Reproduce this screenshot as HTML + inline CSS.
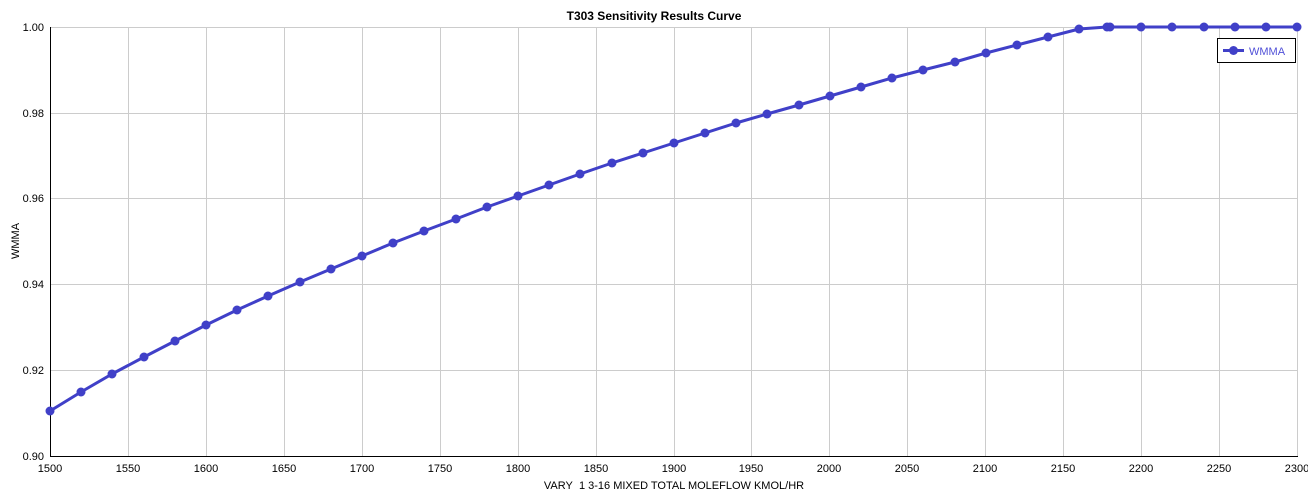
<!DOCTYPE html>
<html><head><meta charset="utf-8"><style>
html,body{margin:0;padding:0;background:#fff;}
svg{display:block;font-family:"Liberation Sans","DejaVu Sans",sans-serif;}
</style></head><body>
<svg width="1308" height="496" viewBox="0 0 1308 496" xmlns="http://www.w3.org/2000/svg">
<rect width="1308" height="496" fill="#fff"/>
<g stroke="#cccccc" stroke-width="1">
<line x1="128.5" y1="27" x2="128.5" y2="456"/><line x1="206.5" y1="27" x2="206.5" y2="456"/><line x1="284.5" y1="27" x2="284.5" y2="456"/><line x1="362.5" y1="27" x2="362.5" y2="456"/><line x1="440.5" y1="27" x2="440.5" y2="456"/><line x1="518.5" y1="27" x2="518.5" y2="456"/><line x1="596.5" y1="27" x2="596.5" y2="456"/><line x1="674.5" y1="27" x2="674.5" y2="456"/><line x1="751.5" y1="27" x2="751.5" y2="456"/><line x1="829.5" y1="27" x2="829.5" y2="456"/><line x1="907.5" y1="27" x2="907.5" y2="456"/><line x1="985.5" y1="27" x2="985.5" y2="456"/><line x1="1063.5" y1="27" x2="1063.5" y2="456"/><line x1="1141.5" y1="27" x2="1141.5" y2="456"/><line x1="1219.5" y1="27" x2="1219.5" y2="456"/><line x1="1297.5" y1="27" x2="1297.5" y2="456"/>
<line x1="50" y1="27.5" x2="1298" y2="27.5"/><line x1="50" y1="113.5" x2="1298" y2="113.5"/><line x1="50" y1="198.5" x2="1298" y2="198.5"/><line x1="50" y1="284.5" x2="1298" y2="284.5"/><line x1="50" y1="370.5" x2="1298" y2="370.5"/>
</g>
<g stroke="#000" stroke-width="1"><line x1="50.5" y1="27" x2="50.5" y2="456.5"/><line x1="50" y1="456.5" x2="1298" y2="456.5"/></g>
<text x="654" y="20" text-anchor="middle" font-size="12" font-weight="bold">T303 Sensitivity Results Curve</text>
<g font-size="11" text-anchor="end"><text x="44" y="31">1.00</text><text x="44" y="117">0.98</text><text x="44" y="202">0.96</text><text x="44" y="288">0.94</text><text x="44" y="374">0.92</text><text x="44" y="460">0.90</text></g>
<g font-size="11" text-anchor="middle"><text x="50" y="472">1500</text><text x="128" y="472">1550</text><text x="206" y="472">1600</text><text x="284" y="472">1650</text><text x="362" y="472">1700</text><text x="440" y="472">1750</text><text x="518" y="472">1800</text><text x="596" y="472">1850</text><text x="674" y="472">1900</text><text x="751" y="472">1950</text><text x="829" y="472">2000</text><text x="907" y="472">2050</text><text x="985" y="472">2100</text><text x="1063" y="472">2150</text><text x="1141" y="472">2200</text><text x="1219" y="472">2250</text><text x="1297" y="472">2300</text></g>
<text x="674" y="489" text-anchor="middle" font-size="11">VARY&#160; 1 3-16 MIXED TOTAL MOLEFLOW KMOL/HR</text>
<text transform="translate(19,241) rotate(-90)" text-anchor="middle" font-size="11">WMMA</text>
<polyline fill="none" stroke="#4040c8" stroke-width="3" stroke-linejoin="round" points="50,411 81,392 112,374 144,357 175,341 206,325 237,310 268,296 300,282 331,269 362,256 393,243 424,231 456,219 487,207 518,196 549,185 580,174 612,163 643,153 674,143 705,133 736,123 767,114 799,105 830,96 861,87 892,78 923,70 955,62 986,53 1017,45 1048,37 1079,29 1107,27 1110,27 1141,27 1172,27 1204,27 1235,27 1266,27 1297,27"/>
<g fill="#4040c8">
<circle cx="50" cy="411" r="4.5"/><circle cx="81" cy="392" r="4.5"/><circle cx="112" cy="374" r="4.5"/><circle cx="144" cy="357" r="4.5"/><circle cx="175" cy="341" r="4.5"/><circle cx="206" cy="325" r="4.5"/><circle cx="237" cy="310" r="4.5"/><circle cx="268" cy="296" r="4.5"/><circle cx="300" cy="282" r="4.5"/><circle cx="331" cy="269" r="4.5"/><circle cx="362" cy="256" r="4.5"/><circle cx="393" cy="243" r="4.5"/><circle cx="424" cy="231" r="4.5"/><circle cx="456" cy="219" r="4.5"/><circle cx="487" cy="207" r="4.5"/><circle cx="518" cy="196" r="4.5"/><circle cx="549" cy="185" r="4.5"/><circle cx="580" cy="174" r="4.5"/><circle cx="612" cy="163" r="4.5"/><circle cx="643" cy="153" r="4.5"/><circle cx="674" cy="143" r="4.5"/><circle cx="705" cy="133" r="4.5"/><circle cx="736" cy="123" r="4.5"/><circle cx="767" cy="114" r="4.5"/><circle cx="799" cy="105" r="4.5"/><circle cx="830" cy="96" r="4.5"/><circle cx="861" cy="87" r="4.5"/><circle cx="892" cy="78" r="4.5"/><circle cx="923" cy="70" r="4.5"/><circle cx="955" cy="62" r="4.5"/><circle cx="986" cy="53" r="4.5"/><circle cx="1017" cy="45" r="4.5"/><circle cx="1048" cy="37" r="4.5"/><circle cx="1079" cy="29" r="4.5"/><circle cx="1107" cy="27" r="4.5"/><circle cx="1110" cy="27" r="4.5"/><circle cx="1141" cy="27" r="4.5"/><circle cx="1172" cy="27" r="4.5"/><circle cx="1204" cy="27" r="4.5"/><circle cx="1235" cy="27" r="4.5"/><circle cx="1266" cy="27" r="4.5"/><circle cx="1297" cy="27" r="4.5"/>
</g>
<rect x="1217.5" y="38.5" width="78" height="24" fill="#fff" stroke="#000"/>
<line x1="1223" y1="50.5" x2="1244" y2="50.5" stroke="#4040c8" stroke-width="3"/>
<circle cx="1233.5" cy="50.5" r="4.5" fill="#4040c8"/>
<text x="1249" y="55" font-size="11" fill="#5050d8">WMMA</text>
</svg>
</body></html>
